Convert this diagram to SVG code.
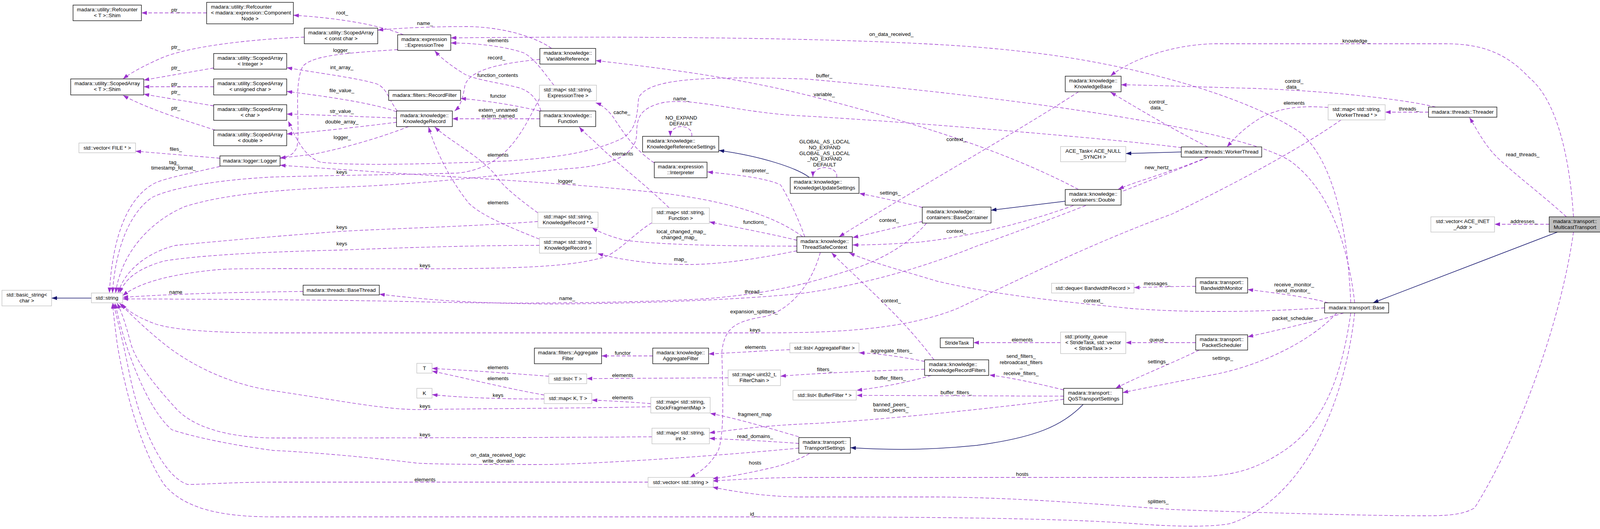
<svg xmlns="http://www.w3.org/2000/svg" width="4104" height="1354" viewBox="0 0 4104 1354">
<defs>
<style>
text{font-family:"Liberation Sans",Arial,Helvetica,sans-serif;font-size:13.33px;fill:#000}
.c{text-anchor:middle}
.b{fill:#fff;stroke:#000;stroke-width:1.3}
.g{fill:#fff;stroke:#bfbfbf;stroke-width:1.3}
.h{fill:#bfbfbf;stroke:#000;stroke-width:1.3}
.e{fill:none;stroke:#9a32cd;stroke-width:1.3;stroke-dasharray:9,5;marker-end:url(#ap)}
.i{fill:none;stroke:#191970;stroke-width:1.5;marker-end:url(#an)}
</style>
<marker id="ap" markerUnits="userSpaceOnUse" markerWidth="14" markerHeight="10" refX="14" refY="5" orient="auto"><path d="M0,0 L14,5 L0,10 z" fill="#9a32cd"/></marker>
<marker id="an" markerUnits="userSpaceOnUse" markerWidth="14" markerHeight="10" refX="14" refY="5" orient="auto"><path d="M0,0 L14,5 L0,10 z" fill="#191970"/></marker>
</defs>
<rect width="4104" height="1354" fill="#fff"/>
<g id="connectors">
<path class="i" d="M234,763 L132,763"/>
<path class="e" d="M529,33 L362,33"/>
<path class="e" d="M779,95 C650,100 480,118 410,150 C360,172 330,190 315,202"/>
<path class="e" d="M547,174 L368,205"/>
<path class="e" d="M547,222 L368,222"/>
<path class="e" d="M547,271 L368,241"/>
<path class="e" d="M551,333 C480,310 380,280 315,244"/>
<path class="e" d="M563,405 L347,387"/>
<path class="e" d="M563,426 C480,445 430,455 400,467 C330,500 288,600 280,750"/>
<path class="e" d="M1033,89 C960,60 850,45 751,39"/>
<path class="e" d="M1412,124 C1380,100 1300,70 1200,68 C1100,68 1020,72 967,77"/>
<path class="e" d="M3458,775 C3450,600 3420,420 3330,340 C3200,250 2900,160 2600,130 C2300,95 1600,92 1154,97"/>
<path class="e" d="M1418,218 C1395,190 1370,150 1340,135 C1280,115 1200,110 1154,110"/>
<path class="e" d="M1018,127 C900,135 800,140 775,170 C750,220 770,330 760,377 C752,395 740,402 717,404"/>
<path class="e" d="M1382,152 C1300,160 1200,175 1190,220 C1185,250 1180,270 1164,284"/>
<path class="e" d="M1017,284 C995,255 990,225 965,215 C920,200 800,185 734,173"/>
<path class="e" d="M1015,286 C950,262 820,245 734,234"/>
<path class="e" d="M1015,302 C950,300 800,293 734,292"/>
<path class="e" d="M1015,313 C920,325 800,338 734,343"/>
<path class="e" d="M1046,324 C980,350 880,380 800,395 C760,400 735,402 717,405"/>
<path class="e" d="M2055,606 C2000,565 1900,520 1700,495 C1550,478 1400,468 1200,455 C1000,443 850,432 717,423"/>
<path class="e" d="M1382,284 C1320,270 1250,258 1179,252"/>
<path class="e" d="M1382,304 L1158,304"/>
<path class="e" d="M1385,284 C1375,255 1360,235 1330,225 C1280,212 1220,205 1190,190 C1160,172 1130,150 1113,130"/>
<path class="e" d="M1377,545 C1330,510 1290,480 1270,450 C1230,400 1150,360 1113,325"/>
<path class="e" d="M1381,612 C1300,580 1230,550 1200,520 C1160,470 1120,400 1097,325"/>
<path class="e" d="M1381,252 C1340,330 1300,430 1171,443 C1000,448 876,448 700,453 C560,460 440,480 390,505 C330,545 295,640 288,750"/>
<path class="e" d="M3025,378 C2850,355 2300,310 2060,297 C1900,290 1780,250 1700,262 C1640,275 1630,300 1630,340 C1630,400 1560,425 1450,432 C1300,445 1100,470 900,478 C700,485 560,500 470,530 C380,570 310,650 296,750"/>
<path class="e" d="M3468,775 C3450,620 3400,480 3300,410 C3150,320 2500,240 2060,202 C1800,195 1660,200 1635,250 C1630,300 1630,340 1580,360 C1500,395 1400,405 1300,412 C1100,420 900,425 820,415 C780,400 760,360 738,310"/>
<path class="e" d="M1377,567 C1200,580 1000,585 875,592 C700,605 550,618 450,628 C380,645 320,690 302,750"/>
<path class="e" d="M1381,628 C1200,628 1000,635 875,640 C650,645 500,655 420,668 C350,688 320,715 306,750"/>
<path class="e" d="M1669,570 C1620,600 1580,650 1540,660 C1450,685 1300,687 1100,688 C800,688 600,686 560,690 C450,700 360,720 314,757"/>
<path class="e" d="M3433,307 C3300,400 3100,500 3000,548 C2800,620 2600,720 2450,790 C2300,850 2100,852 1933,852 L700,852 C550,852 450,845 400,830 C350,812 322,792 312,777"/>
<path class="e" d="M776,746 C600,748 450,752 314,761"/>
<path class="e" d="M2372,571 C2330,620 2270,660 2180,690 C2100,715 2000,750 1800,765 C1600,776 1300,778 1100,773 C900,768 600,766 314,765"/>
<path class="e" d="M3092,403 C3000,440 2700,560 2500,630 C2350,690 2200,730 2060,750 C1900,768 1600,778 1400,778 C1200,776 1100,768 971,753"/>
<path class="e" d="M1666,1041 C1500,1045 1200,1046 1100,1048 C1000,1052 900,1030 680,997 C560,975 470,920 420,880 C370,840 330,800 306,776"/>
<path class="e" d="M1669,1118 C1400,1120 1000,1121 700,1121 C600,1120 500,1100 450,1045 C400,990 350,930 335,880 C322,830 312,800 300,776"/>
<path class="e" d="M2045,1147 C1800,1170 1500,1189 1380,1189 C1200,1189 1100,1188 1064,1185 C900,1165 750,1155 700,1153 C600,1140 500,1120 440,1100 C380,1050 320,900 295,776"/>
<path class="e" d="M1659,1234 L700,1234 C600,1234 520,1240 480,1240 C420,1220 360,1100 330,950 C310,850 295,800 291,776"/>
<path class="e" d="M3468,801 C3440,1050 3330,1280 3150,1340 C3100,1350 3000,1348 2900,1340 C2700,1325 2300,1323 2040,1323 L700,1323 C560,1323 470,1300 420,1240 C360,1150 320,1000 300,880 C295,840 290,800 288,776"/>
<path class="e" d="M2072,1161 C2040,1180 1990,1195 1963,1200 C1920,1210 1870,1220 1824,1225"/>
<path class="e" d="M3458,801 C3430,1000 3370,1100 3282,1157 C3200,1210 3141,1222 3000,1222 L2040,1222 C1950,1223 1880,1228 1824,1231"/>
<path class="e" d="M4028,594 C4000,800 3900,1100 3775,1300 C3740,1320 3700,1321 3600,1320 C3400,1318 3100,1308 3000,1304 C2800,1290 2614,1274 2400,1272 L2040,1272 C1950,1270 1880,1258 1824,1247"/>
<path class="e" d="M4028,555 C4020,420 3990,260 3915,199 C3860,140 3800,112 3700,112 L3106,112 C3000,115 2900,150 2843,194"/>
<path class="e" d="M3675,274 C3600,255 3400,232 3200,226 C3050,222 2950,218 2870,217"/>
<path class="e" d="M3092,376 C3000,330 2900,270 2843,236"/>
<path class="e" d="M3400,275 C3330,270 3280,275 3230,300 C3180,330 3160,355 3141,376"/>
<path class="e" d="M3657,287 L3546,287"/>
<path class="e" d="M4010,555 C3950,500 3870,440 3830,400 C3800,370 3780,330 3762,301"/>
<path class="e" d="M3966,574 L3826,574"/>
<path class="i" d="M3987,594 L3515,775"/>
<path class="e" d="M3400,775 C3350,760 3250,748 3194,741"/>
<path class="e" d="M3061,733 C3000,733 2950,735 2903,736"/>
<path class="e" d="M3440,801 C3380,820 3250,850 3194,862"/>
<path class="e" d="M3061,877 L2882,877"/>
<path class="e" d="M2715,877 L2492,877"/>
<path class="e" d="M3070,896 C3000,930 2900,970 2856,994"/>
<path class="e" d="M3422,801 C3350,880 3211,941 3100,960 C3000,980 2920,995 2874,1005"/>
<path class="e" d="M3391,788 C3200,800 3040,800 2900,790 C2700,770 2550,755 2400,720 C2300,690 2220,668 2174,647"/>
<path class="e" d="M2391,921 C2300,800 2200,720 2129,647"/>
<path class="e" d="M2761,235 C2600,340 2350,480 2148,606"/>
<path class="e" d="M2361,567 C2300,580 2230,598 2183,608"/>
<path class="e" d="M2748,526 C2600,580 2450,610 2350,620 C2280,625 2230,627 2183,627"/>
<path class="e" d="M2361,531 C2300,515 2240,503 2200,495"/>
<path class="e" d="M2761,485 C2600,400 2400,330 2100,252 C1900,200 1700,175 1525,155"/>
<path class="e" d="M3092,402 C3000,440 2920,460 2863,484"/>
<path class="i" d="M2727,515 L2537,538"/>
<path class="i" d="M3024,389 L2882,393"/>
<path class="i" d="M2072,454 C2040,430 1950,400 1840,385"/>
<path class="e" d="M2060,606 C2045,560 2010,490 1998,473 C1960,455 1880,447 1811,440"/>
<path class="e" d="M2040,615 C1980,600 1900,585 1816,568"/>
<path class="e" d="M2040,630 C1900,630 1700,628 1600,615 C1560,605 1530,592 1516,583"/>
<path class="e" d="M2040,642 C1950,660 1850,677 1762,677 C1650,677 1570,660 1530,649"/>
<path class="e" d="M2100,646 C2080,720 2030,790 1960,810 C1880,822 1855,840 1848,900 C1850,1000 1855,1100 1840,1150 C1820,1190 1790,1210 1766,1222"/>
<path class="e" d="M1675,417 C1620,380 1590,330 1570,300 C1555,280 1540,268 1525,263"/>
<path class="e" d="M1713,532 C1650,470 1570,410 1530,370 C1510,350 1495,340 1483,325"/>
<path class="e" d="M1771,349 C1773,333 1760,324 1744,324 C1728,324 1716,334 1716,349"/>
<path class="e" d="M2142,454 C2145,438 2128,429 2111,429 C2094,429 2081,440 2081,453"/>
<path class="e" d="M2367,925 C2300,912 2250,905 2199,903"/>
<path class="e" d="M2367,945 C2200,950 2050,958 1998,963"/>
<path class="e" d="M2384,961 C2320,980 2250,992 2193,999"/>
<path class="e" d="M2723,1014 L2193,1012"/>
<path class="e" d="M2723,998 C2650,980 2580,965 2533,960"/>
<path class="e" d="M2723,1022 C2500,1050 2200,1080 2060,1085 C1950,1090 1880,1100 1816,1108"/>
<path class="e" d="M2045,1135 C1980,1130 1900,1126 1816,1122"/>
<path class="e" d="M2045,1118 C1950,1090 1880,1070 1818,1058"/>
<path class="e" d="M1666,1033 C1600,1028 1560,1026 1515,1024"/>
<path class="e" d="M1864,967 L1502,969"/>
<path class="e" d="M1405,963 C1300,955 1200,948 1106,943"/>
<path class="e" d="M1393,1011 C1300,995 1180,965 1106,950"/>
<path class="e" d="M1393,1021 C1300,1022 1180,1018 1106,1010"/>
<path class="e" d="M1671,911 L1540,911"/>
<path class="e" d="M2022,895 C1950,898 1880,903 1814,906"/>
<path class="i" d="M2773,1035 C2720,1090 2650,1120 2500,1140 C2350,1155 2250,1150 2177,1146"/>
<g id="labels" class="c">
<text x="450" y="30">ptr_</text>
<text x="450" y="125">ptr_</text>
<text x="450" y="178">ptr_</text>
<text x="450" y="220">ptr_</text>
<text x="450" y="240">ptr_</text>
<text x="450" y="281">ptr_</text>
<text x="450" y="386">files_</text>
<text x="446" y="420">tag_</text>
<text x="444" y="434">timestamp_format_</text>
<text x="876" y="37">root_</text>
<text x="1088" y="64">name_</text>
<text x="1275" y="108">elements</text>
<text x="875" y="133">logger_</text>
<text x="1271" y="152">record_</text>
<text x="875" y="177">int_array_</text>
<text x="1274" y="197">function_contents</text>
<text x="875" y="236">file_value_</text>
<text x="1275" y="250">functor</text>
<text x="875" y="289">str_value_</text>
<text x="1275" y="286">extern_unnamed</text>
<text x="1275" y="301">extern_named</text>
<text x="875" y="316">double_array_</text>
<text x="876" y="356">logger_</text>
<text x="1275" y="401">elements</text>
<text x="875" y="445">keys</text>
<text x="1275" y="523">elements</text>
<text x="875" y="586">keys</text>
<text x="875" y="628">keys</text>
<text x="1088" y="684">keys</text>
<text x="450" y="752">name</text>
<text x="1275" y="945">elements</text>
<text x="1275" y="973">elements</text>
<text x="1275" y="1016">keys</text>
<text x="1088" y="1044">keys</text>
<text x="1088" y="1117">keys</text>
<text x="1275" y="1169">on_data_received_logic</text>
<text x="1275" y="1184">write_domain</text>
<text x="1088" y="1232">elements</text>
<text x="1744" y="257">name_</text>
<text x="1592" y="292">cache_</text>
<text x="1744" y="306">NO_EXPAND</text>
<text x="1743" y="321">DEFAULT</text>
<text x="1594" y="398">elements</text>
<text x="1934" y="441">interpreter_</text>
<text x="1451" y="468">logger_</text>
<text x="1933" y="573">functions_</text>
<text x="1744" y="597">local_changed_map_</text>
<text x="1739" y="612">changed_map_</text>
<text x="1742" y="668">map_</text>
<text x="1452" y="768">name_</text>
<text x="1929" y="751">thread_</text>
<text x="1930" y="802">expansion_splitters_</text>
<text x="1933" y="849">keys</text>
<text x="1934" y="893">elements</text>
<text x="1594" y="908">functor</text>
<text x="1594" y="965">elements</text>
<text x="1594" y="1022">elements</text>
<text x="1932" y="1065">fragment_map</text>
<text x="1933" y="1121">read_domains_</text>
<text x="1933" y="1189">hosts</text>
<text x="1929" y="1320">id_</text>
<text x="2282" y="92">on_data_received_</text>
<text x="2110" y="198">buffer_</text>
<text x="2110" y="246">variable_</text>
<text x="2965" y="265">control_</text>
<text x="2962" y="280">data_</text>
<text x="2448" y="361">context_</text>
<text x="2111" y="367">GLOBAL_AS_LOCAL</text>
<text x="2111" y="382">NO_EXPAND</text>
<text x="2111" y="397">GLOBAL_AS_LOCAL</text>
<text x="2111" y="411">_NO_EXPAND</text>
<text x="2111" y="426">DEFAULT</text>
<text x="2965" y="433">new_hertz_</text>
<text x="2279" y="498">settings_</text>
<text x="2276" y="568">context_</text>
<text x="2448" y="596">context_</text>
<text x="2962" y="730">messages_</text>
<text x="2281" y="774">context_</text>
<text x="2799" y="774">context_</text>
<text x="2617" y="874">elements</text>
<text x="2965" y="874">queue_</text>
<text x="2282" y="902">aggregate_filters_</text>
<text x="2614" y="916">send_filters_</text>
<text x="2614" y="932">rebroadcast_filters</text>
<text x="2614" y="942">_</text>
<text x="2614" y="960">receive_filters_</text>
<text x="2965" y="930">settings_</text>
<text x="2111" y="950">filters_</text>
<text x="2279" y="972">buffer_filters_</text>
<text x="2448" y="1009">buffer_filters_</text>
<text x="2281" y="1040">banned_peers_</text>
<text x="2281" y="1054">trusted_peers_</text>
<text x="2617" y="1218">hosts</text>
<text x="2965" y="1288">splitters_</text>
<text x="3472" y="109">knowledge_</text>
<text x="3313" y="212">control_</text>
<text x="3310" y="227">data_</text>
<text x="3313" y="268">elements</text>
<text x="3607" y="283">threads_</text>
<text x="3898" y="400">read_threads_</text>
<text x="3901" y="571">addresses_</text>
<text x="3313" y="733">receive_monitor_</text>
<text x="3310" y="748">send_monitor_</text>
<text x="3313" y="819">packet_scheduler_</text>
<text x="3130" y="921">settings_</text>
</g>
</g>
<g id="n_basic_string"><rect class="g" x="5" y="743" width="127" height="40"/><text class="c" x="68.5" y="759">std::basic_string&lt;</text><text class="c" x="68.5" y="774">char &gt;</text></g>
<g id="n_string"><rect class="g" x="234" y="750" width="80" height="25"/><text class="c" x="274" y="767">std::string</text></g>
<g id="n_refcounter_shim"><rect class="b" x="187" y="13" width="175" height="40"/><text class="c" x="274.5" y="29">madara::utility::Refcounter</text><text class="c" x="274.5" y="44">&lt; T &gt;::Shim</text></g>
<g id="n_refcounter_cn"><rect class="b" x="529" y="6" width="222" height="55"/><text x="540" y="22">madara::utility::Refcounter</text><text x="540" y="37">&lt; madara::expression::Component</text><text class="c" x="640" y="52">Node &gt;</text></g>
<g id="n_scoped_shim"><rect class="b" x="181" y="202" width="187" height="41"/><text class="c" x="274.5" y="218">madara::utility::ScopedArray</text><text class="c" x="274.5" y="233">&lt; T &gt;::Shim</text></g>
<g id="n_scoped_constchar"><rect class="b" x="779" y="72" width="188" height="40"/><text class="c" x="873" y="88">madara::utility::ScopedArray</text><text class="c" x="873" y="103">&lt; const char &gt;</text></g>
<g id="n_scoped_integer"><rect class="b" x="547" y="137" width="187" height="40"/><text class="c" x="640.5" y="153">madara::utility::ScopedArray</text><text class="c" x="640.5" y="168">&lt; Integer &gt;</text></g>
<g id="n_scoped_uchar"><rect class="b" x="547" y="202" width="187" height="41"/><text class="c" x="640.5" y="218">madara::utility::ScopedArray</text><text class="c" x="640.5" y="233">&lt; unsigned char &gt;</text></g>
<g id="n_scoped_char"><rect class="b" x="547" y="268" width="187" height="40"/><text class="c" x="640.5" y="284">madara::utility::ScopedArray</text><text class="c" x="640.5" y="299">&lt; char &gt;</text></g>
<g id="n_scoped_double"><rect class="b" x="547" y="333" width="187" height="40"/><text class="c" x="640.5" y="349">madara::utility::ScopedArray</text><text class="c" x="640.5" y="364">&lt; double &gt;</text></g>
<g id="n_vector_file"><rect class="g" x="202" y="366" width="145" height="25"/><text class="c" x="274.5" y="383">std::vector&lt; FILE * &gt;</text></g>
<g id="n_logger"><rect class="b" x="563" y="399" width="154" height="26"/><text class="c" x="640" y="416">madara::logger::Logger</text></g>
<g id="n_expressiontree"><rect class="b" x="1018" y="89" width="136" height="40"/><text class="c" x="1086" y="105">madara::expression</text><text class="c" x="1086" y="120">::ExpressionTree</text></g>
<g id="n_recordfilter"><rect class="b" x="995" y="231" width="184" height="26"/><text class="c" x="1087" y="248">madara::filters::RecordFilter</text></g>
<g id="n_knowledgerecord"><rect class="b" x="1015" y="284" width="143" height="40"/><text class="c" x="1086.5" y="300">madara::knowledge::</text><text class="c" x="1086.5" y="315">KnowledgeRecord</text></g>
<g id="n_basethread"><rect class="b" x="776" y="730" width="195" height="25"/><text class="c" x="873.5" y="747">madara::threads::BaseThread</text></g>
<g id="n_T"><rect class="g" x="1067" y="930" width="39" height="25"/><text class="c" x="1086.5" y="947">T</text></g>
<g id="n_K"><rect class="g" x="1067" y="994" width="39" height="25"/><text class="c" x="1086.5" y="1011">K</text></g>
<g id="n_variablereference"><rect class="b" x="1382" y="124" width="143" height="40"/><text class="c" x="1453.5" y="140">madara::knowledge::</text><text class="c" x="1453.5" y="155">VariableReference</text></g>
<g id="n_map_et"><rect class="g" x="1381" y="218" width="146" height="40"/><text class="c" x="1454" y="234">std::map&lt; std::string,</text><text class="c" x="1454" y="249">ExpressionTree &gt;</text></g>
<g id="n_function"><rect class="b" x="1382" y="284" width="143" height="40"/><text class="c" x="1453.5" y="300">madara::knowledge::</text><text class="c" x="1453.5" y="315">Function</text></g>
<g id="n_krs"><rect class="b" x="1645" y="349" width="195" height="40"/><text x="1656" y="365">madara::knowledge::</text><text x="1656" y="380">KnowledgeReferenceSettings</text></g>
<g id="n_interpreter"><rect class="b" x="1675" y="415" width="135" height="40"/><text class="c" x="1742.5" y="431">madara::expression</text><text class="c" x="1742.5" y="446">::Interpreter</text></g>
<g id="n_map_krp"><rect class="g" x="1377" y="543" width="154" height="40"/><text class="c" x="1454" y="559">std::map&lt; std::string,</text><text class="c" x="1454" y="574">KnowledgeRecord * &gt;</text></g>
<g id="n_map_kr"><rect class="g" x="1381" y="608" width="146" height="40"/><text class="c" x="1454" y="624">std::map&lt; std::string,</text><text class="c" x="1454" y="639">KnowledgeRecord &gt;</text></g>
<g id="n_map_function"><rect class="g" x="1669" y="532" width="147" height="40"/><text class="c" x="1742.5" y="548">std::map&lt; std::string,</text><text class="c" x="1742.5" y="563">Function &gt;</text></g>
<g id="n_tsc"><rect class="b" x="2040" y="606" width="142" height="40"/><text class="c" x="2111" y="622">madara::knowledge::</text><text class="c" x="2111" y="637">ThreadSafeContext</text></g>
<g id="n_filters_aggregate"><rect class="b" x="1368" y="891" width="172" height="40"/><text class="c" x="1454" y="907">madara::filters::Aggregate</text><text class="c" x="1454" y="922">Filter</text></g>
<g id="n_knowledge_aggregate"><rect class="b" x="1671" y="891" width="143" height="40"/><text class="c" x="1742.5" y="907">madara::knowledge::</text><text class="c" x="1742.5" y="922">AggregateFilter</text></g>
<g id="n_list_t"><rect class="g" x="1405" y="957" width="97" height="25"/><text class="c" x="1453.5" y="974">std::list&lt; T &gt;</text></g>
<g id="n_map_kt"><rect class="g" x="1393" y="1007" width="122" height="26"/><text class="c" x="1454" y="1024">std::map&lt; K, T &gt;</text></g>
<g id="n_map_filterchain"><rect class="g" x="1864" y="947" width="134" height="40"/><text class="c" x="1931" y="963">std::map&lt; uint32_t,</text><text class="c" x="1931" y="978">FilterChain &gt;</text></g>
<g id="n_map_cfm"><rect class="g" x="1666" y="1017" width="152" height="40"/><text class="c" x="1742" y="1033">std::map&lt; std::string,</text><text class="c" x="1742" y="1048">ClockFragmentMap &gt;</text></g>
<g id="n_map_int"><rect class="g" x="1669" y="1096" width="147" height="40"/><text class="c" x="1742.5" y="1112">std::map&lt; std::string,</text><text class="c" x="1742.5" y="1127">int &gt;</text></g>
<g id="n_vector_string"><rect class="g" x="1659" y="1222" width="167" height="25"/><text class="c" x="1742.5" y="1239">std::vector&lt; std::string &gt;</text></g>
<g id="n_list_aggregate"><rect class="g" x="2022" y="878" width="177" height="25"/><text class="c" x="2110.5" y="895">std::list&lt; AggregateFilter &gt;</text></g>
<g id="n_list_bufferfilter"><rect class="g" x="2030" y="999" width="162" height="25"/><text class="c" x="2111" y="1016">std::list&lt; BufferFilter * &gt;</text></g>
<g id="n_transportsettings"><rect class="b" x="2045" y="1120" width="132" height="40"/><text class="c" x="2111" y="1136">madara::transport::</text><text class="c" x="2111" y="1151">TransportSettings</text></g>
<g id="n_knowledgebase"><rect class="b" x="2727" y="195" width="143" height="40"/><text class="c" x="2798.5" y="211">madara::knowledge::</text><text class="c" x="2798.5" y="226">KnowledgeBase</text></g>
<g id="n_kus"><rect class="b" x="2023" y="454" width="176" height="41"/><text x="2032" y="470">madara::knowledge::</text><text x="2032" y="485">KnowledgeUpdateSettings</text></g>
<g id="n_basecontainer"><rect class="b" x="2361" y="530" width="176" height="41"/><text x="2372" y="546">madara::knowledge::</text><text x="2372" y="561">containers::BaseContainer</text></g>
<g id="n_double"><rect class="b" x="2727" y="485" width="143" height="40"/><text class="c" x="2798.5" y="501">madara::knowledge::</text><text class="c" x="2798.5" y="516">containers::Double</text></g>
<g id="n_ace_task"><rect class="g" x="2715" y="375" width="167" height="39"/><text class="c" x="2798.5" y="391">ACE_Task&lt; ACE_NULL</text><text class="c" x="2798.5" y="406">_SYNCH &gt;</text></g>
<g id="n_workerthread"><rect class="b" x="3024" y="376" width="206" height="26"/><text class="c" x="3127" y="393">madara::threads::WorkerThread</text></g>
<g id="n_map_workerthread"><rect class="g" x="3400" y="268" width="146" height="39"/><text class="c" x="3473" y="284">std::map&lt; std::string,</text><text class="c" x="3473" y="299">WorkerThread * &gt;</text></g>
<g id="n_threader"><rect class="b" x="3657" y="274" width="175" height="26"/><text class="c" x="3744.5" y="291">madara::threads::Threader</text></g>
<g id="n_vector_inet"><rect class="g" x="3663" y="555" width="163" height="39"/><text class="c" x="3744.5" y="571">std::vector&lt; ACE_INET</text><text class="c" x="3744.5" y="586">_Addr &gt;</text></g>
<g id="n_multicast"><rect class="h" x="3966" y="555" width="132" height="39"/><text class="c" x="4032" y="571">madara::transport::</text><text class="c" x="4032" y="586">MulticastTransport</text></g>
<g id="n_base"><rect class="b" x="3391" y="775" width="164" height="26"/><text class="c" x="3473" y="792">madara::transport::Base</text></g>
<g id="n_bandwidthmonitor"><rect class="b" x="3061" y="711" width="133" height="39"/><text class="c" x="3127.5" y="727">madara::transport::</text><text class="c" x="3127.5" y="742">BandwidthMonitor</text></g>
<g id="n_packetscheduler"><rect class="b" x="3061" y="857" width="133" height="39"/><text class="c" x="3127.5" y="873">madara::transport::</text><text class="c" x="3127.5" y="888">PacketScheduler</text></g>
<g id="n_deque"><rect class="g" x="2692" y="725" width="211" height="25"/><text class="c" x="2797.5" y="742">std::deque&lt; BandwidthRecord &gt;</text></g>
<g id="n_stridetask"><rect class="b" x="2407" y="865" width="85" height="25"/><text class="c" x="2449.5" y="882">StrideTask</text></g>
<g id="n_priority_queue"><rect class="g" x="2715" y="850" width="167" height="55"/><text x="2726" y="866">std::priority_queue</text><text class="c" x="2798.5" y="881">&lt; StrideTask, std::vector</text><text class="c" x="2798.5" y="896">&lt; StrideTask &gt; &gt;</text></g>
<g id="n_krf"><rect class="b" x="2367" y="921" width="164" height="40"/><text x="2378" y="937">madara::knowledge::</text><text x="2378" y="952">KnowledgeRecordFilters</text></g>
<g id="n_qos"><rect class="b" x="2723" y="994" width="151" height="41"/><text x="2734" y="1010">madara::transport::</text><text x="2734" y="1025">QoSTransportSettings</text></g>
</svg>
